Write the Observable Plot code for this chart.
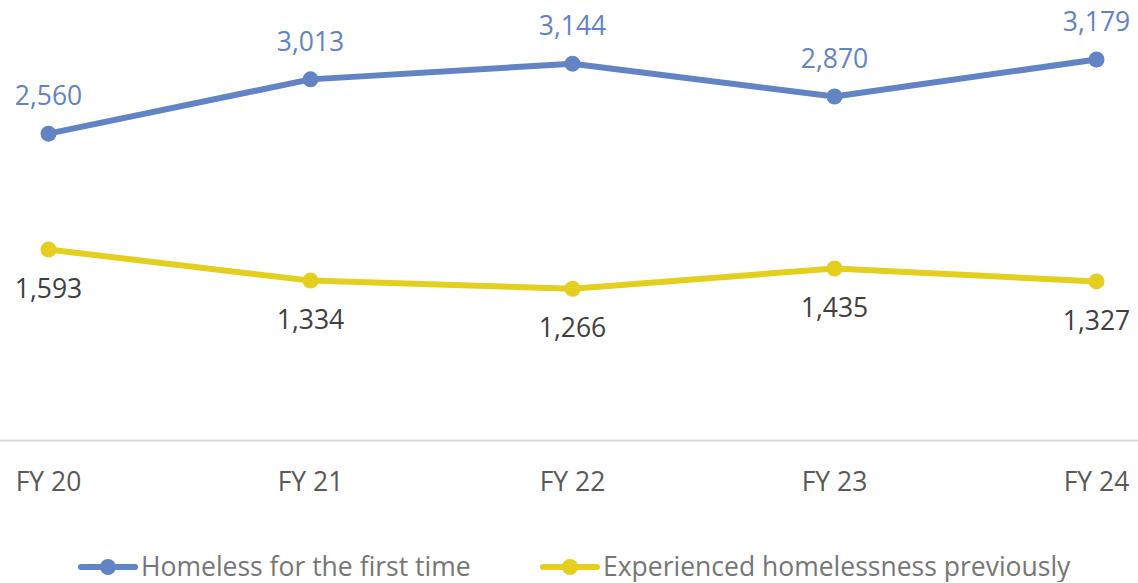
<!DOCTYPE html>
<html>
<head>
<meta charset="utf-8">
<script src="https://cdn.jsdelivr.net/npm/d3@7"></script>
<script src="https://cdn.jsdelivr.net/npm/@observablehq/plot@0.6"></script>
<style>
  body { margin: 0; background: #fff; font-family: "Open Sans", sans-serif; overflow: hidden; }
  #chart { width: 1138px; }
  .legend { position: relative; height: 30px; margin-top: 42px; font-size: 26.5px; line-height: 1.1; color: #767676; }
  .item { display: flex; align-items: center; position: absolute; top: 0; height: 30px; }
</style>
</head>
<body>
<div id="chart"></div>
<script>
const years = ["FY 20", "FY 21", "FY 22", "FY 23", "FY 24"];
const firstTime = [2560, 3013, 3144, 2870, 3179];
const previously = [1593, 1334, 1266, 1435, 1327];
const seriesNames = ["Homeless for the first time", "Experienced homelessness previously"];
const colors = ["#6283c4", "#e5cf1e"];

const blue = years.map((y, i) => ({year: y, value: firstTime[i]}));
const yellow = years.map((y, i) => ({year: y, value: previously[i]}));
const fmt = d3.format(",");

const plot = Plot.plot({
  width: 1138,
  height: 510,
  marginTop: 20.5,
  marginBottom: 70,
  marginLeft: 46,
  marginRight: 41,
  style: {fontFamily: "Open Sans, sans-serif", fontSize: "26px", background: "#fff", overflow: "visible"},
  x: {type: "point", domain: years, padding: 0, label: null},
  y: {domain: [0, 3500], axis: null},
  marks: [
    Plot.ruleY([0], {stroke: "#d9d9d9", strokeWidth: 2, insetLeft: -46, insetRight: -41}),
    Plot.axisX({tickSize: 0, tickPadding: 32, fill: "#595959", fontSize: 26.5, label: null}),
    Plot.line(blue, {x: "year", y: "value", stroke: colors[0], strokeWidth: 6, strokeLinecap: "round"}),
    Plot.dot(blue, {x: "year", y: "value", r: 8, fill: colors[0]}),
    Plot.text(blue, {x: "year", y: "value", text: d => fmt(d.value), dy: -37, fill: colors[0], fontSize: 26.5}),
    Plot.line(yellow, {x: "year", y: "value", stroke: colors[1], strokeWidth: 6, strokeLinecap: "round"}),
    Plot.dot(yellow, {x: "year", y: "value", r: 8, fill: colors[1]}),
    Plot.text(yellow, {x: "year", y: "value", text: d => fmt(d.value), dy: 40, fill: "#404040", fontSize: 26.5})
  ]
});
document.getElementById("chart").appendChild(plot);

const legend = document.createElement("div");
legend.className = "legend";
const lefts = [78, 540];
seriesNames.forEach((name, i) => {
  const item = document.createElement("div");
  item.className = "item";
  item.style.left = lefts[i] + "px";
  item.innerHTML = `<svg width="60" height="20" style="margin-right:3px"><line x1="3" y1="10" x2="57" y2="10" stroke="${colors[i]}" stroke-width="6" stroke-linecap="round"/><circle cx="30" cy="10" r="8" fill="${colors[i]}"/></svg><span>${name}</span>`;
  legend.appendChild(item);
});
document.body.appendChild(legend);
</script>
</body>
</html>
